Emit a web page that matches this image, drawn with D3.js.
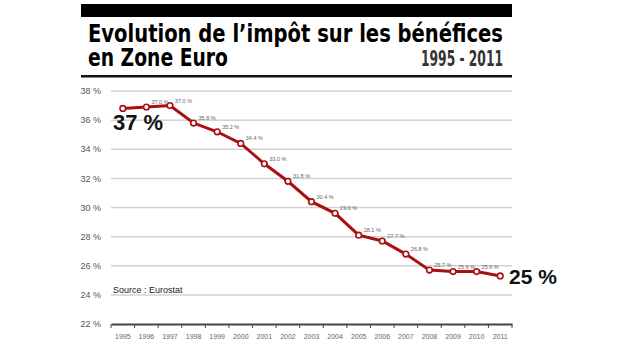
<!DOCTYPE html>
<html>
<head>
<meta charset="utf-8">
<script src="https://cdn.jsdelivr.net/npm/d3@7"></script>
<style>
  body { margin: 0; background: #fff; }
  svg { display: block; }
</style>
</head>
<body>
<div class="chart"></div>
<script>
const years = ["1995","1996","1997","1998","1999","2000","2001","2002","2003","2004","2005","2006","2007","2008","2009","2010","2011"];
const rates = [36.8, 36.9, 37.0, 35.8, 35.2, 34.4, 33.0, 31.8, 30.4, 29.6, 28.1, 27.7, 26.8, 25.7, 25.6, 25.6, 25.3];
const pointLabels = ["", "37.0 %", "37.0 %", "35.8 %", "35.2 %", "34.4 %", "33.0 %", "31.8 %", "30.4 %", "29.6 %", "28.1 %", "27.7 %", "26.8 %", "25.7 %", "25.6 %", "25.6 %", ""];
const yTicks = [22, 24, 26, 28, 30, 32, 34, 36, 38];

const width = 620, height = 350;
const margin = ({top: 91, right: 108, bottom: 26, left: 111});
const titleFont = '"Liberation Sans Narrow", "DejaVu Sans Condensed", sans-serif';
const bodyFont = 'Arial, "Liberation Sans", sans-serif';

const svg = d3.select('.chart').append('svg')
    .attr('width', width)
    .attr('height', height)

const x = d3.scaleBand()
    .domain(years)
    .range([margin.left, width - margin.right])
    .padding(0)

const y = d3.scaleLinear()
    .domain([22, 38])
    .range([height - margin.bottom, margin.top])

// title block
svg.append('rect')
    .attr('x', 81).attr('y', 4)
    .attr('width', 431).attr('height', 13)
    .attr('fill', '#000')

svg.append('text')
    .attr('x', 88).attr('y', 42)
    .attr('textLength', 415)
    .attr('lengthAdjust', 'spacingAndGlyphs')
    .style('font-family', titleFont)
    .style('font-weight', 'bold')
    .style('font-size', '24px')
    .text('Evolution de l\u2019impôt sur les bénéfices')

svg.append('text')
    .attr('x', 88).attr('y', 66)
    .attr('textLength', 140)
    .attr('lengthAdjust', 'spacingAndGlyphs')
    .style('font-family', titleFont)
    .style('font-weight', 'bold')
    .style('font-size', '24px')
    .text('en Zone Euro')

svg.append('text')
    .attr('x', 503).attr('y', 66)
    .attr('text-anchor', 'end')
    .attr('textLength', 82)
    .attr('lengthAdjust', 'spacingAndGlyphs')
    .style('font-family', titleFont)
    .style('font-weight', 'bold')
    .style('font-size', '21px')
    .style('fill', '#333')
    .text('1995 - 2011')

svg.append('rect')
    .attr('x', 81).attr('y', 75)
    .attr('width', 431).attr('height', 2.5)
    .attr('fill', '#111')

// grid
svg.append('g')
    .selectAll('line')
    .data(yTicks.filter(d => d > 22))
    .enter()
    .append('line')
    .attr('x1', margin.left).attr('x2', width - margin.right)
    .attr('y1', d => y(d)).attr('y2', d => y(d))
    .attr('stroke', '#d2d2d2')
    .attr('stroke-width', 1.5)

// y labels
svg.append('g')
    .selectAll('text')
    .data(yTicks)
    .enter()
    .append('text')
    .attr('x', 101)
    .attr('y', d => y(d))
    .attr('dy', '0.35em')
    .attr('text-anchor', 'end')
    .style('font-family', bodyFont)
    .style('font-size', '9px')
    .style('fill', '#555')
    .text(d => d + ' %')

// x axis
const xAxis = d3.axisBottom(x).tickSize(0).tickPadding(10)
const axisG = svg.append('g')
    .attr('transform', `translate(0,${y(22)})`)
    .call(xAxis)
axisG.select('.domain').attr('stroke', '#444').attr('stroke-width', 2)
axisG.selectAll('text')
    .style('font-family', bodyFont)
    .style('font-size', '7px')
    .style('fill', '#666')

const lastEdge = x(years[years.length - 1]) + x.bandwidth()
axisG.selectAll('.bound')
    .data(years.concat(['end']))
    .enter()
    .append('line')
    .attr('class', 'bound')
    .attr('x1', (d, i) => i < years.length ? x(d) : lastEdge)
    .attr('x2', (d, i) => i < years.length ? x(d) : lastEdge)
    .attr('y1', 0).attr('y2', 4)
    .attr('stroke', '#444')
    .attr('stroke-width', 1)

svg.append('text')
    .attr('x', 113).attr('y', 293)
    .style('font-family', bodyFont)
    .style('font-size', '9px')
    .style('fill', '#222')
    .text('Source : Eurostat')

// line
const data = years.map((d, i) => ({year: d, rate: rates[i], label: pointLabels[i]}))
const cx = d => x(d.year) + x.bandwidth() / 2

const line = d3.line()
    .x(cx)
    .y(d => y(d.rate))

svg.append('path')
    .datum(data)
    .attr('fill', 'none')
    .attr('stroke', '#a80f0f')
    .attr('stroke-width', 3)
    .attr('d', line)

svg.append('g')
    .selectAll('circle')
    .data(data)
    .enter()
    .append('circle')
    .attr('cx', cx)
    .attr('cy', d => y(d.rate))
    .attr('r', 2.8)
    .attr('fill', '#fff')
    .attr('stroke', '#a80f0f')
    .attr('stroke-width', 1.6)

svg.append('g')
    .selectAll('text')
    .data(data.filter(d => d.label))
    .enter()
    .append('text')
    .attr('x', d => cx(d) + 5)
    .attr('y', d => y(d.rate) - 3)
    .style('font-family', bodyFont)
    .style('font-size', '5.5px')
    .style('fill', '#666')
    .text(d => d.label)

// big labels
svg.append('text')
    .attr('x', 113).attr('y', 130)
    .style('font-family', bodyFont)
    .style('font-weight', 'bold')
    .style('font-size', '22px')
    .style('fill', '#111')
    .text('37 %')

svg.append('text')
    .attr('x', 509).attr('y', 284)
    .style('font-family', bodyFont)
    .style('font-weight', 'bold')
    .style('font-size', '21px')
    .style('fill', '#111')
    .text('25 %')
</script>
</body>
</html>
